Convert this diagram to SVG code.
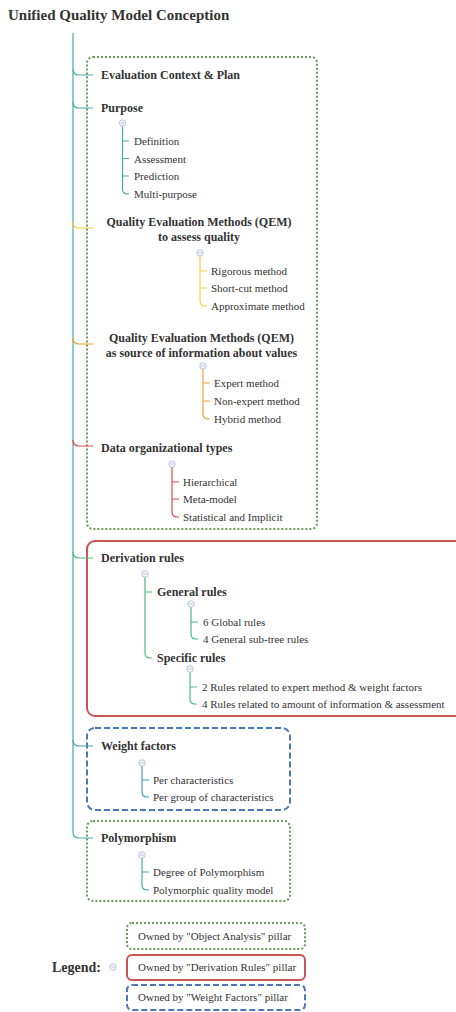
<svg xmlns="http://www.w3.org/2000/svg" width="456" height="1012" viewBox="0 0 456 1012">
<style>
text{font-family:'Liberation Serif','DejaVu Serif',serif;fill:#333}
.t{font-size:15px;font-weight:bold}
.h{font-size:12px;font-weight:bold}
.c{font-size:11px}
.lg{font-size:14px;font-weight:bold}
.box{fill:none;stroke-width:2}
.dot{stroke:#6a9a5e;stroke-dasharray:2 2}
.red{stroke:#c85454}
.dash{stroke:#4a78b8;stroke-dasharray:6 3}
.ln{fill:none;stroke-width:1.2}
.tl{stroke:#45aaa8}
.yl{stroke:#f2d13c}
.or{stroke:#f0a030}
.rd{stroke:#e04a4a}
.gr{stroke:#4cbb80}
.bl{stroke:#4a9ab8}
.cc{fill:#f6f8fc;stroke:#a8b6d6;stroke-width:0.8}
.cm{stroke:#a8b6d6;stroke-width:0.8}
</style>
<defs>
<g id="col"><circle class="cc" r="3.2"/><line class="cm" x1="-1.8" y1="0" x2="1.8" y2="0"/></g>
</defs>
<text class="t" x="8" y="20" font-family="Liberation Serif, serif">Unified Quality Model Conception</text>
<g id="boxes">
<rect class="box dot" x="87" y="57" width="230" height="472" rx="6"/>
<rect class="box red" x="87" y="541" width="390" height="175" rx="8"/>
<rect class="box dash" x="87" y="728" width="203" height="82" rx="8"/>
<rect class="box dot" x="87" y="821" width="203" height="80" rx="6"/>
</g>
<g id="connectors">
<path class="ln tl" d="M73,33 V832 Q73,838 79,838 H93"/>
<path class="ln tl" d="M73,69 Q73,75 79,75 H93"/>
<path class="ln tl" d="M73,102 Q73,108 79,108 H93"/>
<path class="ln yl" d="M73,222 Q73,228 79,228 H93"/>
<path class="ln or" d="M73,338 Q73,344 79,344 H93"/>
<path class="ln rd" d="M73,440 Q73,446 79,446 H93"/>
<path class="ln gr" d="M73,552 Q73,558 79,558 H93"/>
<path class="ln bl" d="M73,740 Q73,746 79,746 H93"/>
<path class="ln tl" d="M122.5,126 V189 Q122.5,194 127.5,194 H129 M122.5,141 H129 M122.5,158.5 H129 M122.5,176 H129"/>
<path class="ln yl" d="M200,256 V301 Q200,306 205,306 H207 M200,271 H207 M200,288 H207"/>
<path class="ln or" d="M203,369 V414 Q203,419 208,419 H210 M203,383 H210 M203,401 H210"/>
<path class="ln rd" d="M172,467 V512 Q172,517 177,517 H179 M172,482 H179 M172,499 H179"/>
<path class="ln gr" d="M145,577 V653 Q145,658 150,658 H152 M145,592 H152"/>
<path class="ln gr" d="M191,607 V634 Q191,639 196,639 H198 M191,622 H198"/>
<path class="ln gr" d="M190,672 V699 Q190,704 195,704 H197 M190,687 H197"/>
<path class="ln bl" d="M142,766 V792 Q142,797 147,797 H149 M142,780 H149"/>
<path class="ln tl" d="M142,858 V885 Q142,890 147,890 H149 M142,872 H149"/>
</g>
<g id="n-eval"><text class="h" x="101" y="79">Evaluation Context &amp; Plan</text></g>
<g id="n-purpose"><text class="h" x="101" y="112">Purpose</text><use href="#col" x="122.5" y="123"/></g>
<g id="n-def"><text class="c" x="134" y="145">Definition</text></g>
<g id="n-ass"><text class="c" x="134" y="162.5">Assessment</text></g>
<g id="n-pred"><text class="c" x="134" y="180">Prediction</text></g>
<g id="n-multi"><text class="c" x="134" y="198">Multi-purpose</text></g>
<g id="n-qem1"><text class="h" x="199" y="226" text-anchor="middle">Quality Evaluation Methods (QEM)</text><text class="h" x="199" y="241" text-anchor="middle">to assess quality</text><use href="#col" x="200" y="253"/></g>
<g id="n-rig"><text class="c" x="211" y="275">Rigorous method</text></g>
<g id="n-short"><text class="c" x="211" y="292">Short-cut method</text></g>
<g id="n-approx"><text class="c" x="211" y="310">Approximate method</text></g>
<g id="n-qem2"><text class="h" x="201.5" y="342" text-anchor="middle">Quality Evaluation Methods (QEM)</text><text class="h" x="201.5" y="357" text-anchor="middle">as source of information about values</text><use href="#col" x="203" y="366"/></g>
<g id="n-expert"><text class="c" x="214" y="387">Expert method</text></g>
<g id="n-nonexp"><text class="c" x="214" y="405">Non-expert method</text></g>
<g id="n-hybrid"><text class="c" x="214" y="423">Hybrid method</text></g>
<g id="n-data"><text class="h" x="101" y="452">Data organizational types</text><use href="#col" x="172" y="464"/></g>
<g id="n-hier"><text class="c" x="183" y="486">Hierarchical</text></g>
<g id="n-meta"><text class="c" x="183" y="503">Meta-model</text></g>
<g id="n-stat"><text class="c" x="183" y="521">Statistical and Implicit</text></g>
<g id="n-deriv"><text class="h" x="101" y="562">Derivation rules</text><use href="#col" x="145" y="574"/></g>
<g id="n-general"><text class="h" x="157" y="596">General rules</text><use href="#col" x="191" y="604"/></g>
<g id="n-glob"><text class="c" x="203" y="626">6 Global rules</text></g>
<g id="n-subtree"><text class="c" x="203" y="643">4 General sub-tree rules</text></g>
<g id="n-specific"><text class="h" x="157" y="662">Specific rules</text><use href="#col" x="190" y="669"/></g>
<g id="n-r2"><text class="c" x="202" y="691">2 Rules related to expert method &amp; weight factors</text></g>
<g id="n-r4"><text class="c" x="202" y="708">4 Rules related to amount of information &amp; assessment</text></g>
<g id="n-weight"><text class="h" x="101" y="750">Weight factors</text><use href="#col" x="142" y="763"/></g>
<g id="n-perc"><text class="c" x="153" y="784">Per characteristics</text></g>
<g id="n-perg"><text class="c" x="153" y="801">Per group of characteristics</text></g>
<g id="n-poly"><text class="h" x="101" y="842">Polymorphism</text><use href="#col" x="142" y="855"/></g>
<g id="n-deg"><text class="c" x="153" y="876">Degree of Polymorphism</text></g>
<g id="n-pqm"><text class="c" x="153" y="894">Polymorphic quality model</text></g>
<g id="legend">
<text class="lg" x="52" y="972">Legend:</text>
<use href="#col" x="113" y="967"/>
<rect class="box dot" x="127" y="923" width="178" height="26" rx="5"/>
<text class="c" x="138" y="940">Owned by "Object Analysis" pillar</text>
<rect class="box red" x="127" y="955" width="178" height="25" rx="5"/>
<text class="c" x="138" y="971">Owned by "Derivation Rules" pillar</text>
<rect class="box dash" x="127" y="985" width="178" height="25" rx="5"/>
<text class="c" x="138" y="1001">Owned by "Weight Factors" pillar</text>
</g>
</svg>
